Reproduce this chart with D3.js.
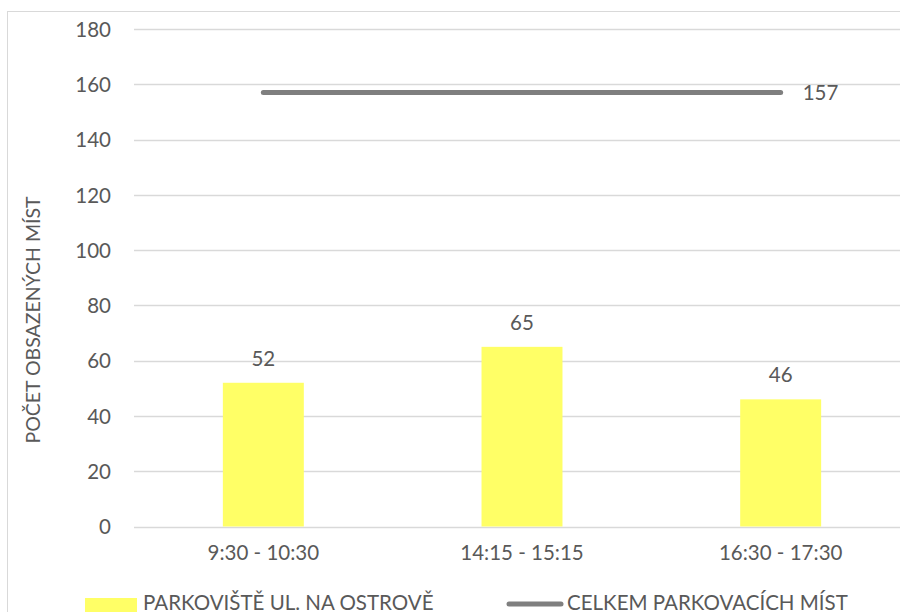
<!DOCTYPE html>
<html>
<head>
<meta charset="utf-8">
<script src="https://cdn.jsdelivr.net/npm/d3@7"></script>
<style>
  html, body { margin: 0; padding: 0; background: #fff; }
  svg { display: block; }
  text { font-family: Lato, "Open Sans", sans-serif; fill: #595959; }
</style>
</head>
<body>
<svg id="chart" width="900" height="612"></svg>
<script>
// Obsazenost parkoviště v jednotlivých časových úsecích
const categories = ["9:30 - 10:30", "14:15 - 15:15", "16:30 - 17:30"];
const occupied = [52, 65, 46];          // PARKOVIŠTĚ UL. NA OSTROVĚ
const capacity = [157, 157, 157];       // CELKEM PARKOVACÍCH MÍST
const yTicks = [0, 20, 40, 60, 80, 100, 120, 140, 160, 180];
const seriesNames = ["PARKOVIŠTĚ UL. NA OSTROVĚ", "CELKEM PARKOVACÍCH MÍST"];
const axisTitle = "POČET OBSAZENÝCH MÍST";

const FS = 20.5;
const svg = d3.select("#chart");
const W = 900, H = 612;
const plot = { left: 134, right: 910, top: 29, bottom: 526.5 };

// chart frame
svg.append("rect")
  .attr("x", 7.5).attr("y", 11.5)
  .attr("width", 1000).attr("height", 1000)
  .attr("fill", "none").attr("stroke", "#d9d9d9").attr("stroke-width", 1);

const x = d3.scaleBand()
  .domain(categories)
  .range([plot.left, plot.right])
  .paddingInner(0.687)
  .paddingOuter(0.3435);

const y = d3.scaleLinear()
  .domain([0, 180])
  .range([plot.bottom, plot.top]);

// horizontal gridlines
svg.append("g")
  .selectAll("line")
  .data(yTicks)
  .join("line")
  .attr("x1", plot.left).attr("x2", W)
  .attr("y1", d => Math.round(y(d)) + 0.5)
  .attr("y2", d => Math.round(y(d)) + 0.5)
  .attr("stroke", "#d9d9d9").attr("stroke-width", 1.3);

// y axis labels
const yAxis = d3.axisLeft(y).tickValues(yTicks).tickSize(0).tickPadding(0);
const gy = svg.append("g")
  .attr("transform", `translate(111,0)`)
  .call(yAxis);
gy.select(".domain").remove();
gy.selectAll("text")
  .attr("font-size", FS)
  .attr("font-family", "Lato, 'Open Sans', sans-serif")
  .attr("fill", "#595959")
  .attr("dy", "0.35em");

// x axis labels
const xAxis = d3.axisBottom(x).tickSize(0).tickPadding(0);
const gx = svg.append("g")
  .attr("transform", `translate(0,${plot.bottom})`)
  .call(xAxis);
gx.select(".domain").remove();
gx.selectAll("text")
  .attr("font-size", FS)
  .attr("font-family", "Lato, 'Open Sans', sans-serif")
  .attr("fill", "#595959")
  .attr("y", 33)
  .attr("dy", 0);

// bars
svg.append("g")
  .selectAll("rect")
  .data(occupied)
  .join("rect")
  .attr("x", (d, i) => x(categories[i]))
  .attr("width", x.bandwidth())
  .attr("y", d => y(d))
  .attr("height", d => y(0) - y(d))
  .attr("fill", "#ffff66");

// bar value labels
svg.append("g")
  .selectAll("text")
  .data(occupied)
  .join("text")
  .attr("x", (d, i) => x(categories[i]) + x.bandwidth() / 2)
  .attr("y", d => y(d) - 17)
  .attr("text-anchor", "middle")
  .attr("font-size", FS)
  .text(d => d);

// capacity line
const cx = (c) => x(c) + x.bandwidth() / 2;
const line = d3.line()
  .x((d, i) => cx(categories[i]))
  .y(d => y(d));
svg.append("path")
  .datum(capacity)
  .attr("d", line)
  .attr("fill", "none")
  .attr("stroke", "#7f7f7f")
  .attr("stroke-width", 5)
  .attr("stroke-linecap", "round");

// label for last point of the capacity line
const lastI = capacity.length - 1;
svg.append("text")
  .attr("x", cx(categories[lastI]) + 22)
  .attr("y", y(capacity[lastI]))
  .attr("dy", "0.35em")
  .attr("font-size", FS)
  .text(capacity[lastI]);

// y axis title
svg.append("text")
  .attr("transform", `translate(40,320) rotate(-90)`)
  .attr("text-anchor", "middle")
  .attr("font-size", 19.5)
  .text(axisTitle);

// legend
const leg = svg.append("g");
leg.append("rect")
  .attr("x", 85).attr("y", 598)
  .attr("width", 52).attr("height", 14)
  .attr("fill", "#ffff66");
leg.append("text")
  .attr("x", 143).attr("y", 610)
  .attr("font-size", FS)
  .text(seriesNames[0]);
leg.append("line")
  .attr("x1", 509).attr("x2", 561)
  .attr("y1", 604).attr("y2", 604)
  .attr("stroke", "#7f7f7f")
  .attr("stroke-width", 5)
  .attr("stroke-linecap", "round");
leg.append("text")
  .attr("x", 567).attr("y", 610)
  .attr("font-size", FS)
  .text(seriesNames[1]);
</script>
</body>
</html>
